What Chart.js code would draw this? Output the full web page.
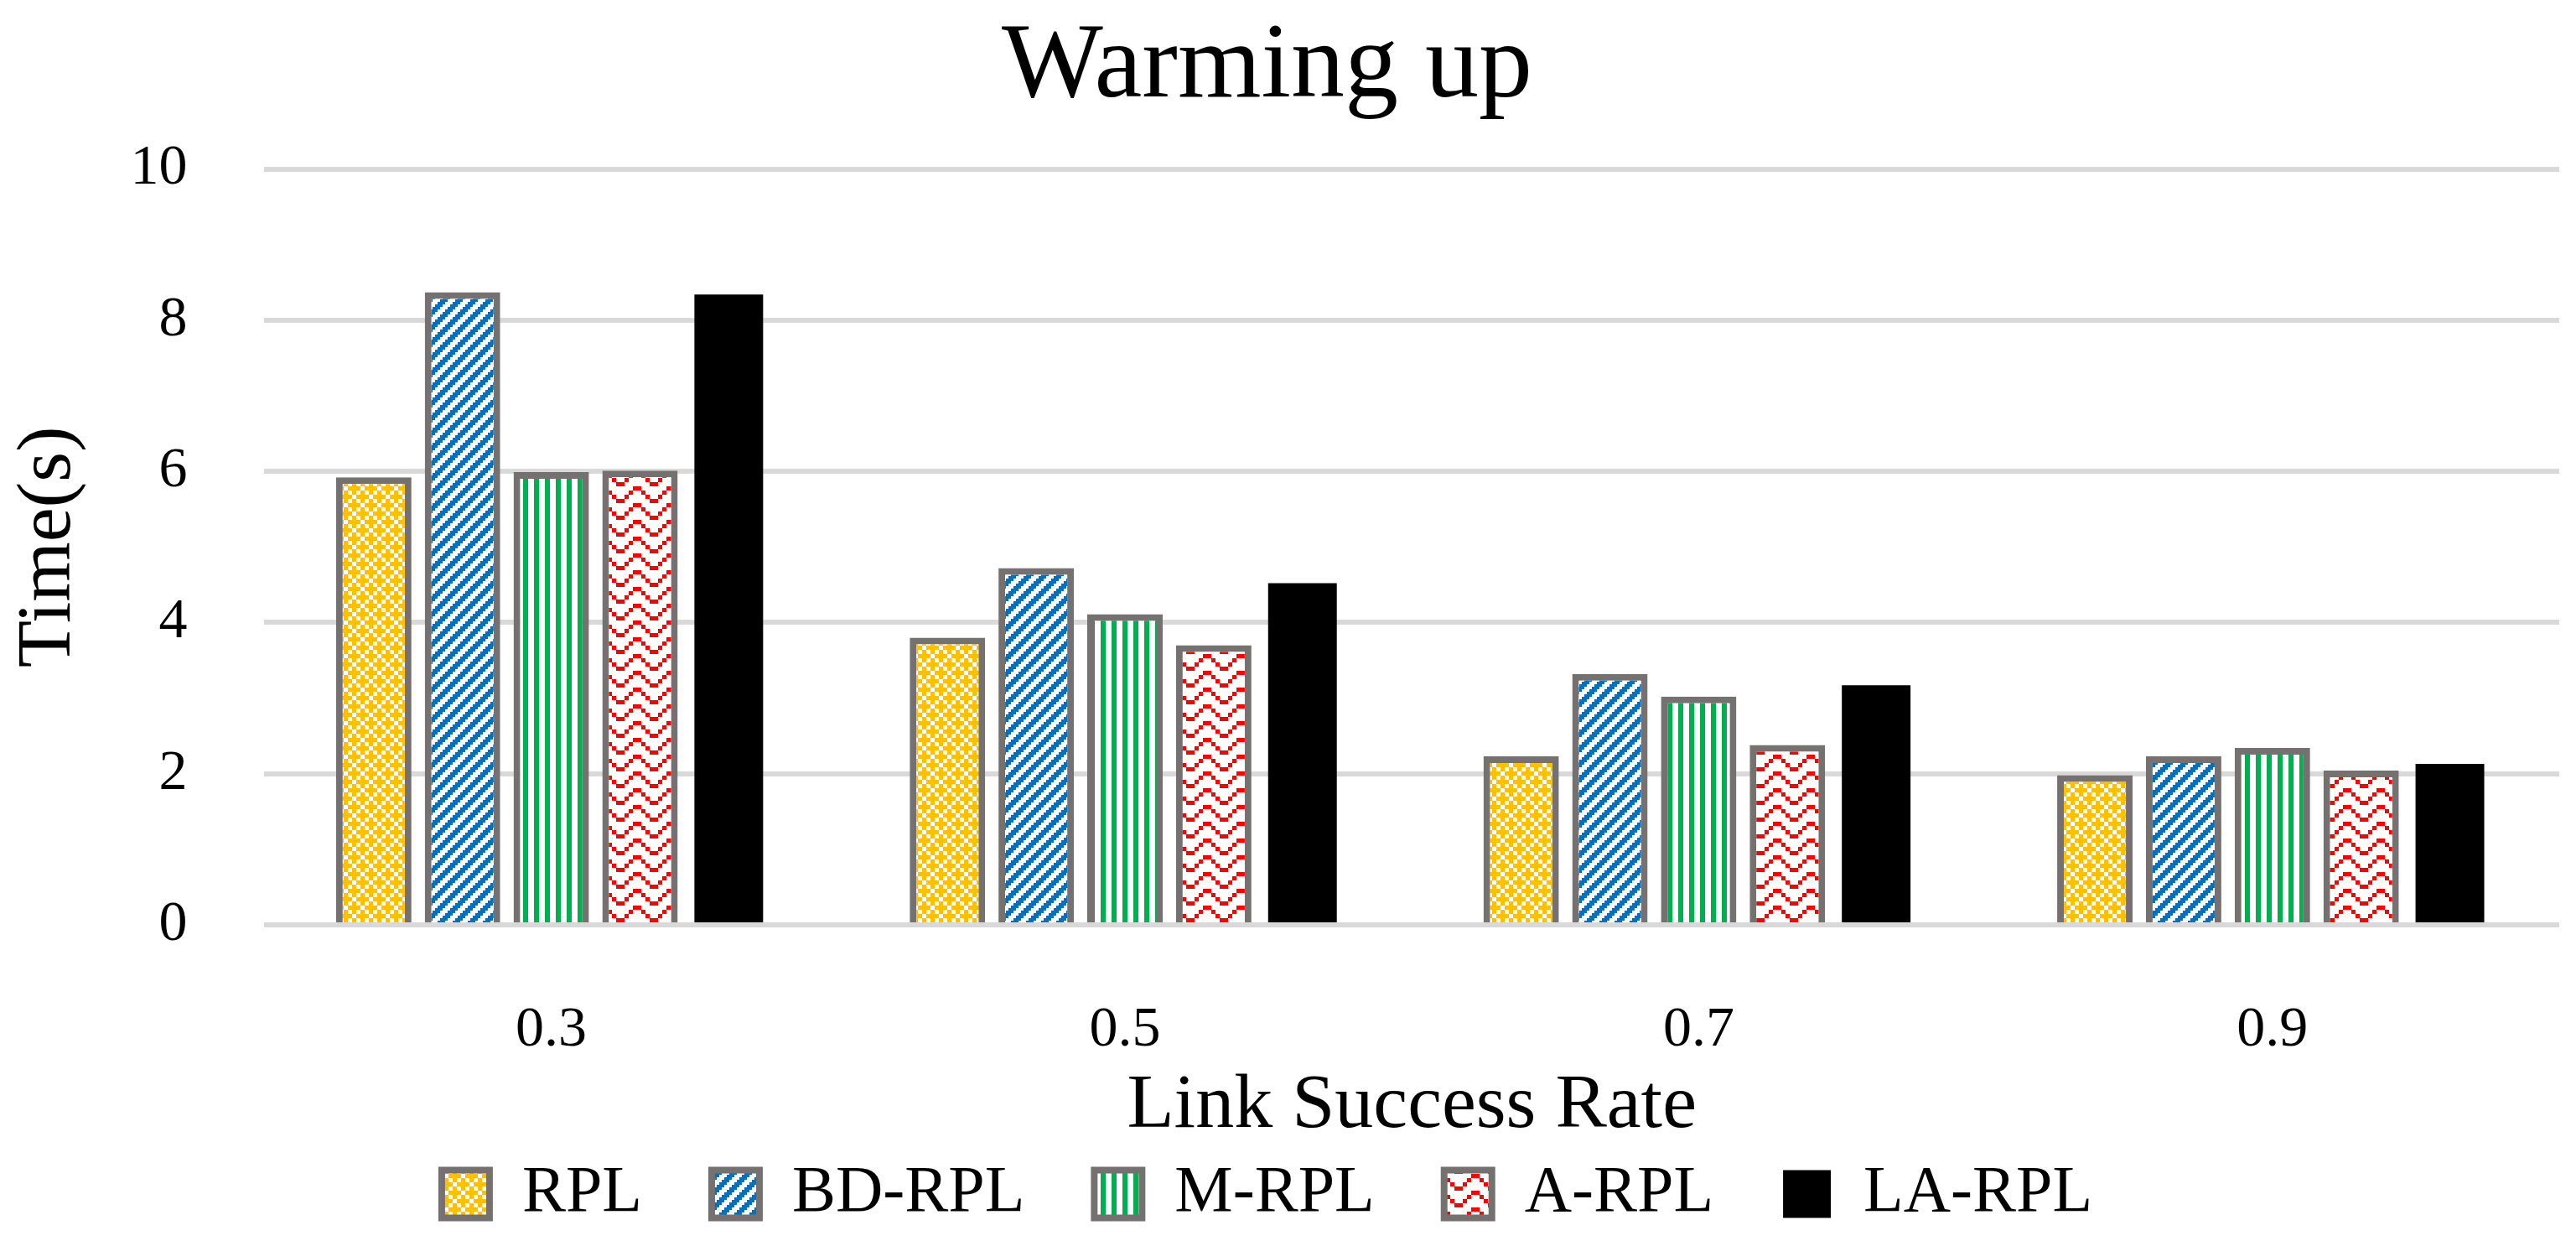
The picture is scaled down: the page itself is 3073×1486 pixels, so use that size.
<!DOCTYPE html>
<html>
<head>
<meta charset="utf-8">
<title>Warming up</title>
<script src="https://cdn.jsdelivr.net/npm/chart.js@4.4.1/dist/chart.umd.min.js"></script>
<style>
  html, body { margin: 0; padding: 0; background: #ffffff; }
  #wrap { width: 3073px; height: 1486px; }
</style>
</head>
<body>
<div id="wrap"><canvas id="warmChart" width="3073" height="1486"></canvas></div>
<script>
// data
const linkRates = ['0.3', '0.5', '0.7', '0.9'];
const rplTime   = [5.92, 3.80, 2.23, 1.98];
const bdRplTime = [8.37, 4.72, 3.32, 2.23];
const mRplTime  = [5.99, 4.11, 3.02, 2.34];
const aRplTime  = [6.01, 3.70, 2.38, 2.04];
const laRplTime = [8.34, 4.52, 3.17, 2.13];
const yTicks    = [0, 2, 4, 6, 8, 10];

const serif = '"Liberation Serif", "DejaVu Serif", serif';
const barEdge = '#767171';

// small bitmap fills like the office ones
function makePattern(cols, rows, cell, fg, bg, isOn) {
  const c = document.createElement('canvas');
  c.width = cols * cell;
  c.height = rows * cell;
  const g = c.getContext('2d');
  g.fillStyle = bg;
  g.fillRect(0, 0, c.width, c.height);
  g.fillStyle = fg;
  for (let i = 0; i < cols; i++) {
    for (let j = 0; j < rows; j++) {
      if (isOn(i, j)) g.fillRect(i * cell, j * cell, cell, cell);
    }
  }
  return document.getElementById('warmChart').getContext('2d').createPattern(c, 'repeat');
}

function inCross(i, j, cx, cy) {
  const dx = (i - cx + 4) % 4, dy = (j - cy + 4) % 4;
  return (dx === 0 && (dy === 0 || dy === 1 || dy === 3)) || (dy === 0 && (dx === 1 || dx === 3));
}
const zig = [0, 1, 2, 3, 3, 2, 1, 0];

const yellowFill = makePattern(4, 4, 5, '#FFC000', '#ffffff', (i, j) => inCross(i, j, 0, 0) || inCross(i, j, 2, 2));
const blueFill   = makePattern(6, 6, 3, '#0070C0', '#ffffff', (i, j) => (i + j) % 6 < 3);
const greenFill  = makePattern(13, 1, 1, '#00B050', '#ffffff', (i, j) => i < 6);
const redFill    = makePattern(8, 4, 5, '#FF0000', '#ffffff', (i, j) => j === zig[i] % 4 || (zig[i] === 3 && j === 3));

Chart.defaults.color = '#000000';
Chart.defaults.font.family = serif;

const ctx = document.getElementById('warmChart').getContext('2d');
const chart = new Chart(ctx, {
  type: 'bar',
  data: {
    labels: linkRates,
    datasets: [
      { label: 'RPL',    data: rplTime,   backgroundColor: yellowFill, borderColor: barEdge, borderWidth: 8 },
      { label: 'BD-RPL', data: bdRplTime, backgroundColor: blueFill,   borderColor: barEdge, borderWidth: 8 },
      { label: 'M-RPL',  data: mRplTime,  backgroundColor: greenFill,  borderColor: barEdge, borderWidth: 8 },
      { label: 'A-RPL',  data: aRplTime,  backgroundColor: redFill,    borderColor: barEdge, borderWidth: 8 },
      { label: 'LA-RPL', data: laRplTime, backgroundColor: '#000000',  borderWidth: 0, barPercentage: 0.774 }
    ]
  },
  options: {
    responsive: false,
    devicePixelRatio: 1,
    animation: false,
    datasets: {
      bar: { categoryPercentage: 0.7735, barPercentage: 0.85 }
    },
    layout: { padding: { top: 5, left: -30, right: 20, bottom: 13 } },
    plugins: {
      title: {
        display: true,
        text: 'Warming up',
        color: '#000000',
        font: { family: serif, size: 128, weight: 'normal' },
        padding: { top: 0, bottom: 43 }
      },
      legend: {
        position: 'bottom',
        labels: {
          color: '#000000',
          font: { family: serif, size: 78 },
          boxWidth: 57,
          boxHeight: 57,
          padding: 83
        }
      },
      tooltip: { enabled: false }
    },
    scales: {
      x: {
        grid: { display: false },
        border: { display: false },
        ticks: { color: '#000000', font: { family: serif, size: 68 }, padding: 77 },
        title: {
          display: true,
          text: 'Link Success Rate',
          color: '#000000',
          font: { family: serif, size: 92 },
          padding: { top: -82, bottom: -73 }
        }
      },
      y: {
        min: 0,
        max: 10,
        afterBuildTicks: axis => { axis.ticks = yTicks.map(v => ({ value: v })); },
        grid: { color: '#D9D9D9', lineWidth: 6, drawTicks: false },
        border: { display: false },
        ticks: { color: '#000000', font: { family: serif, size: 68 }, padding: 92 },
        title: {
          display: true,
          text: 'Time(s)',
          color: '#000000',
          font: { family: serif, size: 92 },
          padding: { top: 34, bottom: -51 }
        }
      }
    }
  }
});
</script>
</body>
</html>
